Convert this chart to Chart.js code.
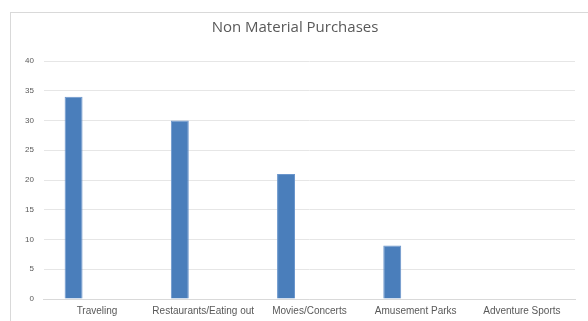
<!doctype html>
<html>
  <head>
    <meta charset="utf-8">
    <title>Non Material Purchases</title>
    <style>
      html, body {
        margin: 0;
        background: #fff;
        overflow: hidden;
        font-family: "Open Sans", Calibri, Arial, sans-serif;
      }
      #box {
        position: absolute;
        left: 10px;
        top: 12px;
        width: 577px;
        height: 310px;
        border-top: 1px solid #d9d9d9;
        border-left: 1px solid #d9d9d9;
      }
    </style>
  </head>
  <body>
    <div id="box"><canvas id="canvas"></canvas></div>
    <script src="https://cdn.jsdelivr.net/npm/chart.js@4"></script>
    <script>
      var categories = ['Traveling', 'Restaurants/Eating out', 'Movies/Concerts', 'Amusement Parks', 'Adventure Sports']
      var purchases = [34, 30, 21, 9, 0]
      // second (empty) series of the original sheet - it keeps the bars left of each label
      var otherSeries = []
      var yTicks = [0, 5, 10, 15, 20, 25, 30, 35, 40]

      var ctx = document.getElementById('canvas').getContext('2d')
      var grey = '#595959'
      var barStyle = {
        backgroundColor: '#4a7ebb',
        borderColor: '#6b96cc',
        borderWidth: 1,
        barPercentage: 0.383,
        categoryPercentage: 0.882
      }
      new Chart(ctx, {
        type: 'bar',
        data: {
          labels: categories,
          datasets: [
            Object.assign({ label: 'Purchases', data: purchases }, barStyle),
            Object.assign({ label: 'Other', data: otherSeries }, barStyle)
          ]
        },
        options: {
          responsive: true,
          maintainAspectRatio: false,
          animation: false,
          layout: { padding: { left: 4, right: 13, top: 0, bottom: 0 } },
          plugins: {
            legend: { display: false },
            tooltip: { enabled: false },
            title: {
              display: true,
              text: 'Non Material Purchases',
              color: grey,
              font: { size: 15, family: '"Open Sans", Arial, sans-serif', weight: 'normal' },
              padding: { top: 6, bottom: 24 }
            }
          },
          scales: {
            x: {
              grid: { display: false, drawTicks: false },
              border: { color: '#d9d9d9' },
              ticks: { color: grey, font: { size: 10 }, maxRotation: 0, autoSkip: false, padding: 6 }
            },
            y: {
              min: 0,
              max: 40,
              afterBuildTicks: function(axis) {
                axis.ticks = yTicks.map(function(v) { return { value: v } })
              },
              grid: { color: '#e6e6e6', drawTicks: false },
              border: { display: false },
              ticks: { color: grey, font: { size: 8 }, padding: 10 }
            }
          }
        }
      })
    </script>
  </body>
</html>
